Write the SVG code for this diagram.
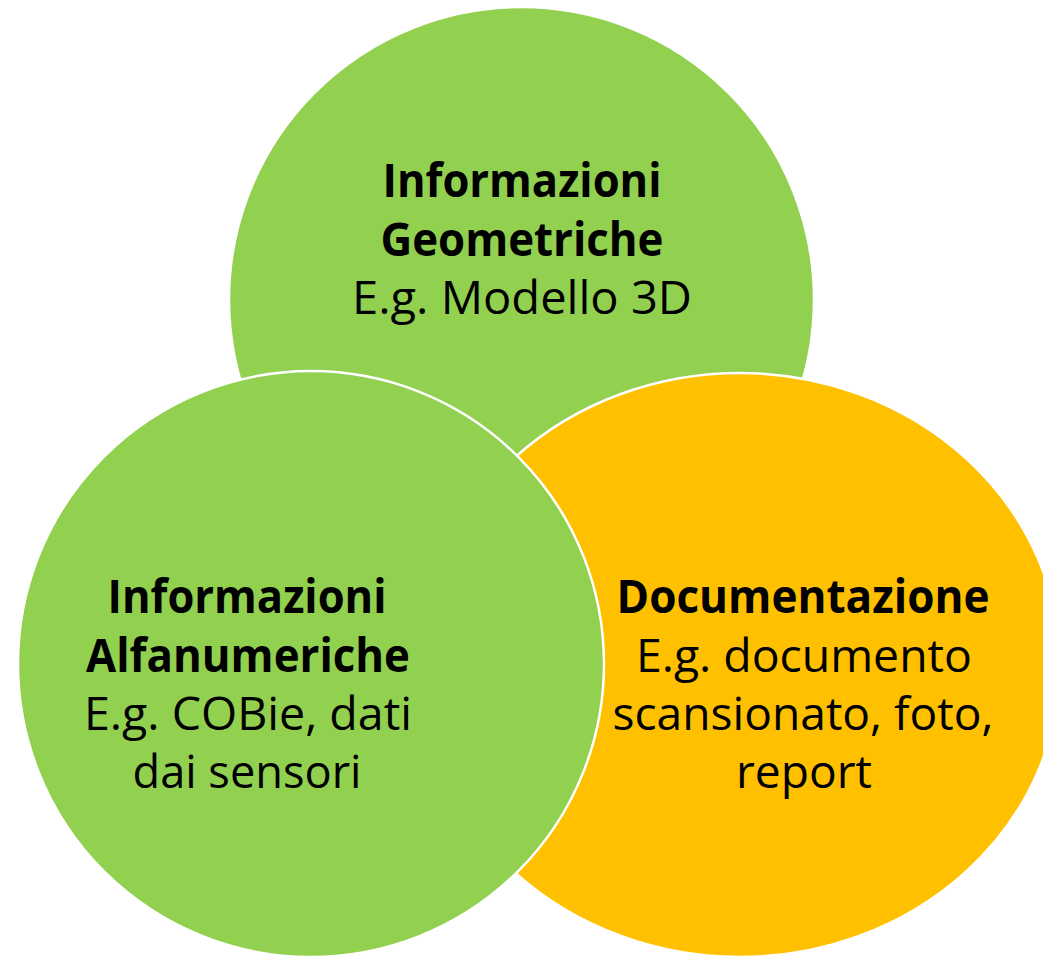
<svg xmlns="http://www.w3.org/2000/svg" width="1043" height="956" viewBox="0 0 1043 956">
<style>
.c{stroke:#ffffff;stroke-width:2.5}
.g{fill:#92D050}
.o{fill:#FFC000}
text{font-family:"Open Sans","Noto Sans","Liberation Sans",sans-serif;font-size:46px;fill:#000;text-anchor:middle}
.b{font-weight:bold}
</style>
<rect width="1043" height="956" fill="#ffffff"/>
<g id="geometriche">
<circle class="c g" cx="521.5" cy="299.5" r="292.5"/>
<text class="b" x="522" y="197" textLength="279" lengthAdjust="spacingAndGlyphs">Informazioni</text>
<text class="b" x="522" y="256" textLength="283" lengthAdjust="spacingAndGlyphs">Geometriche</text>
<text x="522" y="314" textLength="340" lengthAdjust="spacingAndGlyphs">E.g. Modello 3D</text>
</g>
<g id="documentazione">
<ellipse class="c o" cx="740" cy="665" rx="320" ry="292"/>
<text class="b" x="803" y="613" textLength="373" lengthAdjust="spacingAndGlyphs">Documentazione</text>
<text x="804" y="672" textLength="336" lengthAdjust="spacingAndGlyphs">E.g. documento</text>
<text x="803" y="730" textLength="381" lengthAdjust="spacingAndGlyphs">scansionato, foto,</text>
<text x="804" y="788" textLength="136" lengthAdjust="spacingAndGlyphs">report</text>
</g>
<g id="alfanumeriche">
<circle class="c g" cx="311" cy="664" r="293"/>
<text class="b" x="247" y="613" textLength="279" lengthAdjust="spacingAndGlyphs">Informazioni</text>
<text class="b" x="248" y="672" textLength="324" lengthAdjust="spacingAndGlyphs">Alfanumeriche</text>
<text x="248" y="730" textLength="328" lengthAdjust="spacingAndGlyphs">E.g. COBie, dati</text>
<text x="247" y="788" textLength="229" lengthAdjust="spacingAndGlyphs">dai sensori</text>
</g>
<g id="connectors"/>
</svg>
